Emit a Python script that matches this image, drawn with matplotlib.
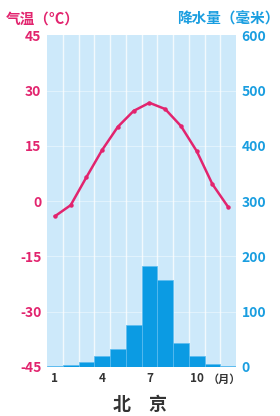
import numpy as np
from matplotlib import pyplot as plt

plt.rcParams['font.family'] = ['Noto Sans CJK SC', 'DejaVu Sans']
plt.rcParams['axes.unicode_minus'] = False

# ---------------------------------------------
# Data (Beijing climate)
# ---------------------------------------------
months = np.arange(1, 13)
temperature = [-4.1, -1.1, 6.5, 13.9, 20.2, 24.5, 26.7, 25.0, 20.4, 13.6, 4.6, -1.6]
precipitation = [2, 4, 8, 19, 32, 76, 182, 158, 43, 19, 6, 2]

temp_ticks = [-45, -30, -15, 0, 15, 30, 45]
precip_ticks = [0, 100, 200, 300, 400, 500, 600]
month_ticks = [1, 4, 7, 10]

PINK = "#e2246e"
BLUE = "#1a9ee0"
BAR = "#0b9be3"
BG = "#cde9fa"

fig = plt.figure(figsize=(2.8, 4.16), dpi=100)
ax = fig.add_axes([0.168, 0.118, 0.675, 0.797])
ax2 = ax.twinx()

# ---------------------------------------------
# Precipitation bars (right axis)
# ---------------------------------------------
ax2.bar(months, precipitation, width=1.0, color=BAR, edgecolor="#5cbcf0",
        linewidth=0.5, zorder=2)
ax2.set_ylim(0, 600)
ax2.set_yticks(precip_ticks)

# gridlines drawn on ax2 so they sit over the background
for m in np.arange(1.5, 12.5, 1.0):
    ax2.axvline(m, color="white", lw=1.0, alpha=0.75, zorder=1)
for p in precip_ticks[1:-1]:
    ax2.axhline(p, color="white", lw=0.6, alpha=0.5, zorder=1)

# ---------------------------------------------
# Temperature line (left axis)
# ---------------------------------------------
ax.set_zorder(ax2.get_zorder() + 1)
ax.patch.set_visible(False)
ax2.patch.set_visible(True)
ax2.patch.set_facecolor(BG)
ax.plot(months, temperature, color=PINK, lw=1.8, marker="o", ms=2.2, zorder=3)
ax.set_ylim(-45, 45)
ax.set_yticks(temp_ticks)
ax.set_xlim(0.5, 12.5)
ax.set_xticks(month_ticks)

for a in (ax, ax2):
    for s in a.spines.values():
        s.set_visible(False)

ax.tick_params(axis="y", length=0, pad=4, labelsize=10, labelcolor=PINK)
ax2.tick_params(axis="y", length=0, pad=4, labelsize=10, labelcolor=BLUE)
ax.tick_params(axis="x", length=0, pad=4, labelsize=8.5, labelcolor="#333333")
for lbl in ax.get_yticklabels() + ax2.get_yticklabels() + ax.get_xticklabels():
    lbl.set_fontweight("bold")

# ---------------------------------------------
# Texts
# ---------------------------------------------
fig.text(0.02, 0.955, "气温（°C）", color=PINK, fontsize=10.5, fontweight="bold",
         ha="left", va="center")
fig.text(0.997, 0.955, "降水量（毫米）", color=BLUE, fontsize=10.5, fontweight="bold",
         ha="right", va="center")
fig.text(0.80, 0.088, "（月）", color="#333333", fontsize=8, fontweight="bold",
         ha="center", va="center")
fig.text(0.5, 0.028, "北　京", color="#333333", fontsize=13, fontweight="bold",
         ha="center", va="center")

fig.savefig("out.png", dpi=100)
